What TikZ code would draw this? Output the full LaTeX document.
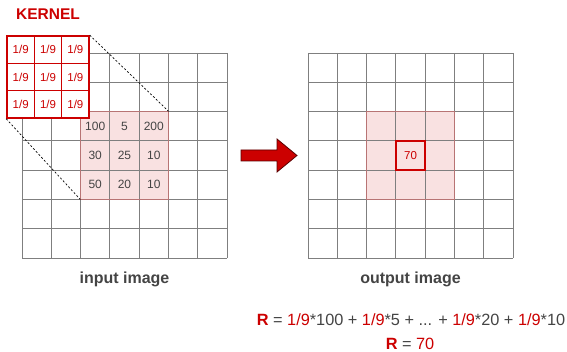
\documentclass[tikz,border=0pt]{standalone}
\usepackage{fontspec}
\setmainfont{Liberation Sans}
\usetikzlibrary{positioning}
\definecolor{kred}{HTML}{CC0000}
\definecolor{darkred}{HTML}{5A0000}
\definecolor{pinkfill}{HTML}{F9E1E1}
\definecolor{pinkline}{HTML}{B87474}
\definecolor{gridgray}{HTML}{7F7F7F}
\definecolor{textgray}{HTML}{444444}
\newcommand{\kr}[1]{{\color{kred}#1}}

\begin{document}
\begin{tikzpicture}[x=1pt,y=-1pt,
  gridline/.style={draw=gridgray,line width=0.8pt},
  cellnum/.style={text=textgray,font=\fontsize{12}{14}\selectfont},
  kcell/.style={text=kred,font=\fontsize{11.5}{13}\selectfont},
  window/.style={fill=pinkfill,minimum size=87.86pt,inner sep=0pt},
  caption/.style={text=textgray,font=\bfseries\fontsize{16}{18}\selectfont},
  formula/.style={text=textgray,font=\fontsize{16.3}{18}\selectfont,inner sep=1pt}]
\useasboundingbox (0,0) rectangle (567,352);

% pink windows
\node[window] (win) at (124.5,155.5) {};
\node[window] (wout) at (410.5,155.5) {};

% the two grids
\foreach \i in {0,...,7} {
  \draw[gridline] (22+\i*29.2857,53) -- (22+\i*29.2857,258);
  \draw[gridline] (22,53+\i*29.2857) -- (227,53+\i*29.2857);
  \draw[gridline] (308+\i*29.2857,53) -- (308+\i*29.2857,258);
  \draw[gridline] (308,53+\i*29.2857) -- (513,53+\i*29.2857);
}
\draw[pinkline] (win.north west) rectangle (win.south east);
\draw[pinkline] (wout.north west) rectangle (wout.south east);

% input values
\foreach \val [count=\n from 0] in {100,5,200,30,25,10,50,20,10} {
  \pgfmathtruncatemacro{\r}{div(\n,3)}
  \pgfmathtruncatemacro{\c}{mod(\n,3)}
  \node[cellnum] (v-\r-\c) at (95.2+\c*29.2857,126.2+\r*29.2857) {\val};
}

% kernel
\node[draw=kred,line width=1.6pt,fill=white,minimum size=82pt,inner sep=0pt] (kern) at (48,77) {};
\foreach \i in {1,2} {
  \draw[kred,line width=0.8pt] (7+\i*27.33,36) -- (7+\i*27.33,118);
  \draw[kred,line width=0.8pt] (7,36+\i*27.33) -- (89,36+\i*27.33);
}
\foreach \r in {0,1,2}
  \foreach \c in {0,1,2}
    \node[kcell] (k-\r-\c) at (20.7+\c*27.33,49.7+\r*27.33) {1/9};
\node[text=kred,font=\bfseries\fontsize{15.5}{18}\selectfont] (kernlbl) at (48,14) {KERNEL};

\draw[dashed,dash pattern=on 2pt off 2pt,line width=0.7pt] (kern.north east) -- (win.north east);
\draw[dashed,dash pattern=on 2pt off 2pt,line width=0.7pt] (kern.south west) -- (win.south west);

% result cell
\node[draw=kred,line width=1.6pt,minimum size=29.3pt,inner sep=0pt,text=kred,
  font=\fontsize{11.5}{13}\selectfont] (res) at (410.5,155.5) {70};

% arrow
\draw[fill=kred,draw=darkred,line width=0.8pt] (241,150) -- (277,150) -- (277,139) -- (297,155.5)
  -- (277,172) -- (277,161) -- (241,161) -- cycle;

% captions
\node[caption] (inlbl) at (124.5,279) {input image};
\node[caption] (outlbl) at (410.5,279) {output image};

% formula
\node[formula] (sum) at (411,320) {\kr{\textbf{R}} = \kr{1/9}*100 + \kr{1/9}*5 + ... + \kr{1/9}*20 + \kr{1/9}*10};
\node[formula] (total) at (410,343.5) {\kr{\textbf{R}} = \kr{70}};
\end{tikzpicture}
\end{document}
